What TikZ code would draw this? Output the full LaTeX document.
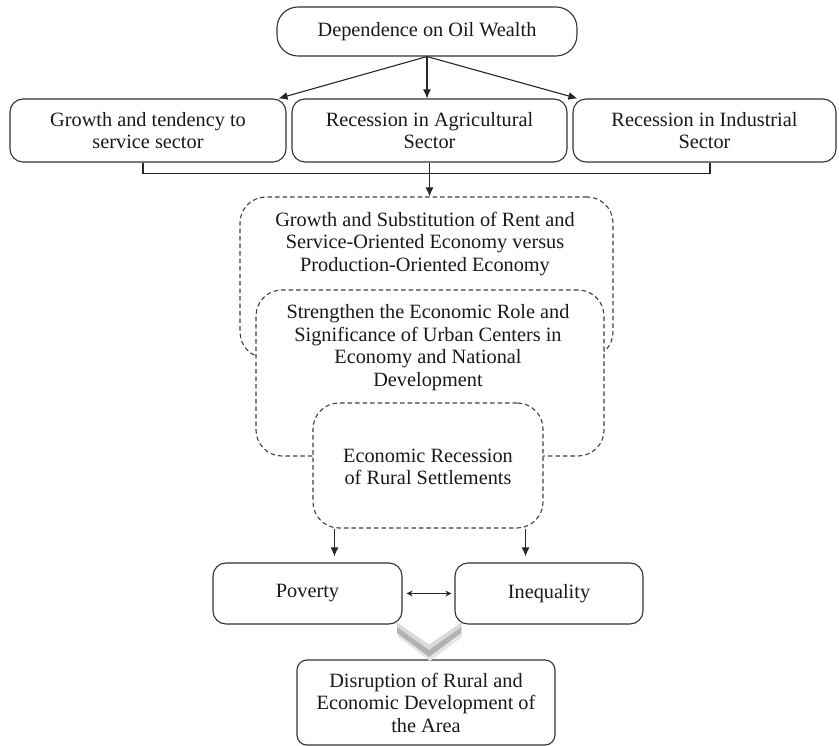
\documentclass[tikz,border=0pt]{standalone}
\usepackage{fontspec}
\setmainfont{Liberation Serif}
\usetikzlibrary{arrows.meta,calc}
\begin{document}
\begin{tikzpicture}[x=1pt,y=-1pt,
  every node/.style={font=\fontsize{20.3}{22.5}\selectfont, text=black!90},
  sbox/.style={draw=black!80, line width=1.1pt, rounded corners=13pt, fill=white, align=center, inner sep=0pt},
  dbox/.style={draw=black!75, line width=1.1pt, dash pattern=on 4.5pt off 3pt, rounded corners=26pt, fill=white, inner sep=0pt},
  txt/.style={align=center, inner sep=0pt},
  conn/.style={draw=black!85, line width=1.1pt},
  arr/.style={conn, -{Latex[length=9pt,width=8pt]}},
  darr/.style={draw=black!85, line width=0.9pt, {Stealth[length=6pt,width=6pt]}-{Stealth[length=6pt,width=6pt]}},
]
\useasboundingbox (0,0) rectangle (839,746);

% top
\node[sbox, rounded corners=21pt, minimum width=300pt, minimum height=49pt] (top) at (427,31.5) {Dependence on Oil Wealth};

% row
\node[sbox, minimum width=276pt, minimum height=63pt] (b1) at (148,130.5) {Growth and tendency to\\service sector};
\node[sbox, minimum width=275pt, minimum height=63pt] (b2) at (429.5,130.5) {Recession in Agricultural\\Sector};
\node[sbox, minimum width=263pt, minimum height=63pt] (b3) at (704.5,130.5) {Recession in Industrial\\Sector};

\draw[arr] (top.south) -- ([xshift=-8pt]b1.north east);
\draw[arr] (top.south) -- (top.south |- b2.north);
\draw[arr] (top.south) -- ([xshift=5pt]b3.north west);

% dashed boxes
\node[dbox, minimum width=373pt, minimum height=161pt] (A) at (426.5,277.5) {};
\node[dbox, minimum width=348pt, minimum height=166pt] (B) at (430,373) {};
\node[dbox, minimum width=230pt, minimum height=125pt] (C) at (428,465.5) {};

\node[txt] (tA) at (425,244) {Growth and Substitution of Rent and\\Service-Oriented Economy versus\\Production-Oriented Economy};
\node[txt] (tB) at (428,347.5) {Strengthen the Economic Role and\\Significance of Urban Centers in\\Economy and National\\Development};
\node[txt] (tC) at (428,467) {Economic Recession\\of Rural Settlements};

% bracket
\draw[conn] ([xshift=-5pt]b1.south) -- ++(0,11) -| ([xshift=5.5pt]b3.south);
\draw[arr] (b2.south) -- (b2.south |- A.north);

% bottom
\node[sbox, minimum width=189pt, minimum height=61pt] (pov) at (307.5,593.5) {Poverty};
\node[sbox, minimum width=188pt, minimum height=61pt] (ineq) at (549,593.5) {Inequality};
\node[sbox, rounded corners=10pt, minimum width=258pt, minimum height=85pt] (dis) at (426,702.5) {Disruption of Rural and\\Economic Development of\\the Area};

\coordinate (c1) at ([xshift=22pt]C.south west);
\coordinate (c2) at ([xshift=-18pt]C.south east);
\draw[arr] (c1) -- ([yshift=6pt]c1 |- pov.north);
\draw[arr] (c2) -- ([yshift=6pt]c2 |- ineq.north);

\draw[darr] ([xshift=4pt]pov.east) -- ([xshift=-3pt]ineq.west);

% chevron
\fill[gray!20] (398,626) -- (430,650) -- (462,626) -- (462,637) -- (430,661) -- (398,637) -- cycle;
\fill[gray!60] (397,623) -- (429,645) -- (461,623) -- (461,633) -- (429,657) -- (397,633) -- cycle;
\fill[gray!30] (397,623) -- (429,645) -- (461,623) -- (461,627) -- (429,650) -- (397,627) -- cycle;
\end{tikzpicture}
\end{document}
